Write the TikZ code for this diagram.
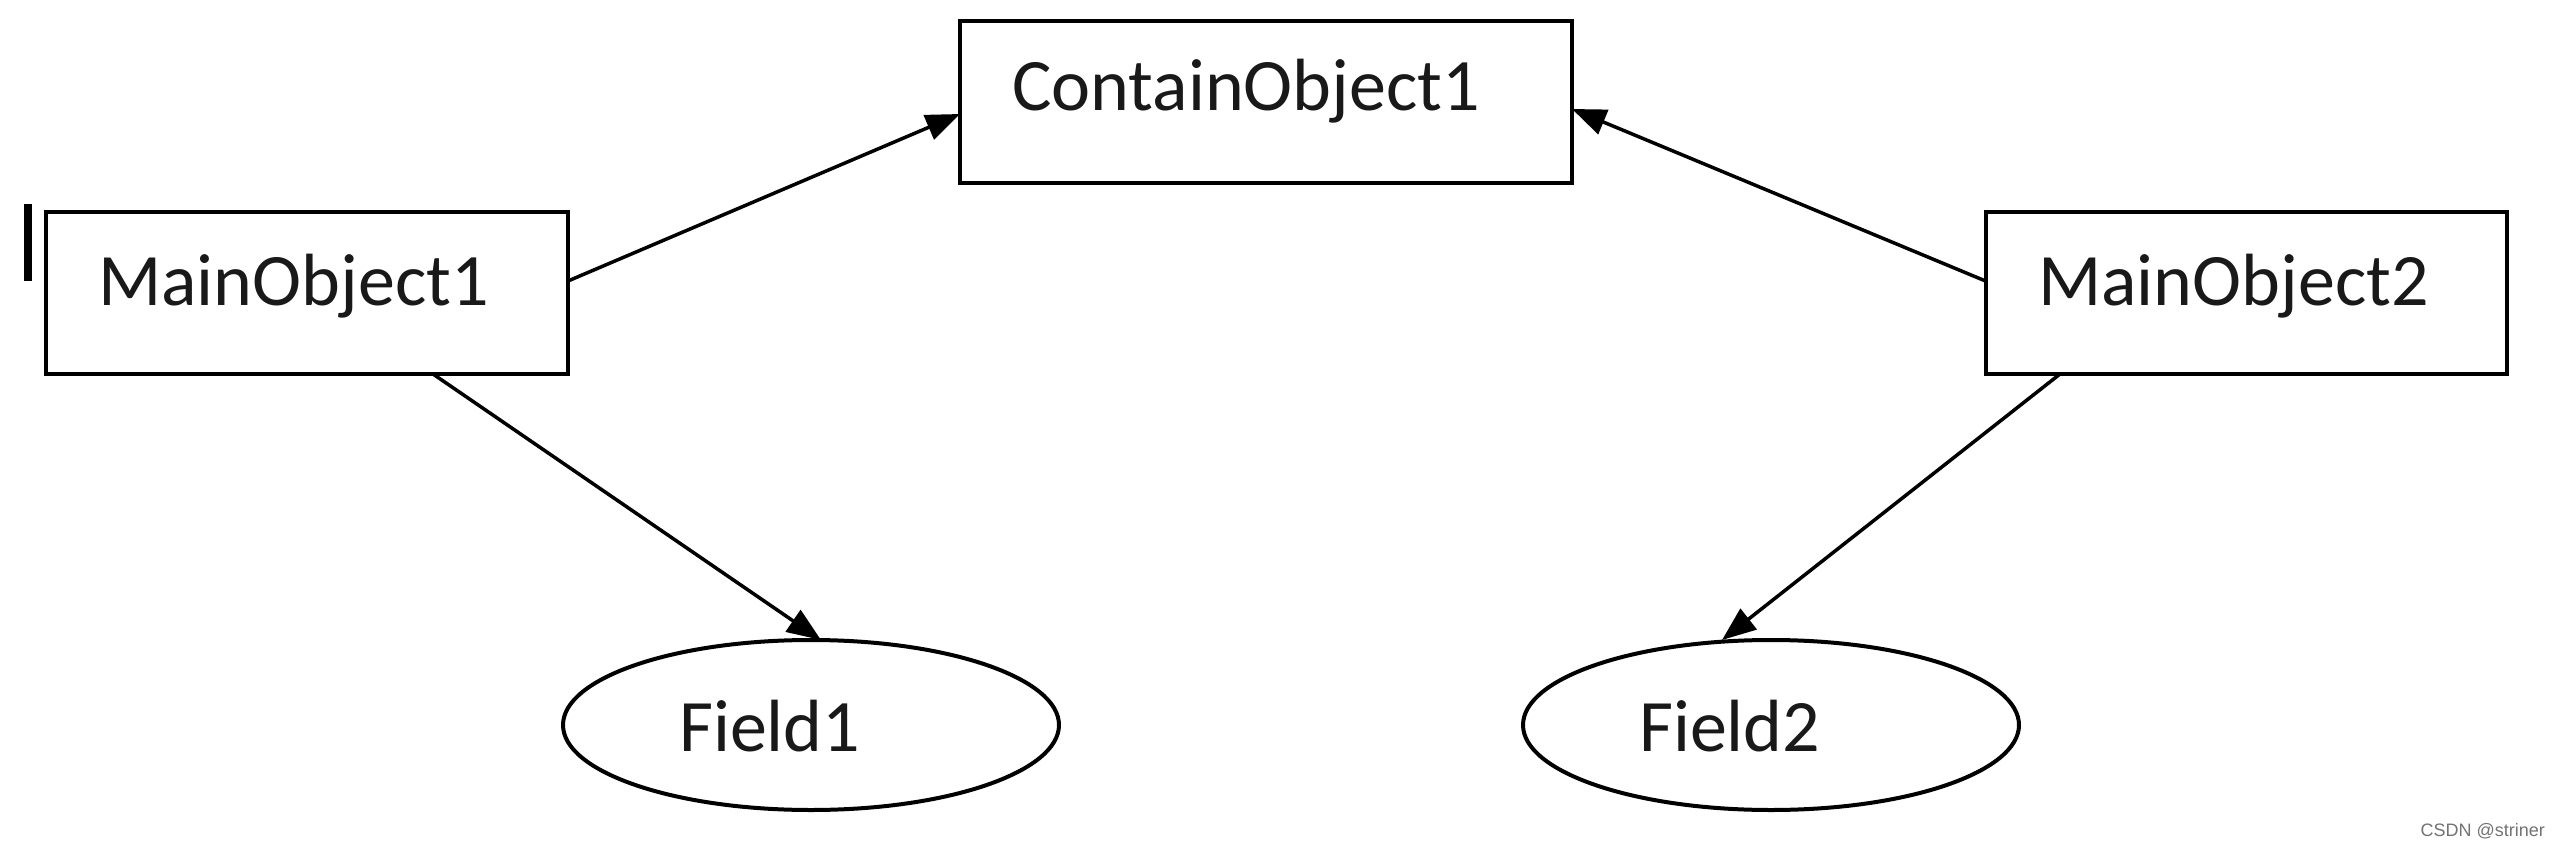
\documentclass[tikz,border=0pt]{standalone}
\usepackage{fontspec}
\setmainfont{Carlito}
\newfontfamily\wmfont{Liberation Sans}
\usetikzlibrary{shapes.geometric,arrows.meta}
\tikzset{
  objbox/.style={draw=black, line width=4pt, rectangle, inner sep=0pt, outer sep=0pt, fill=white},
  fieldell/.style={draw=black, line width=4pt, ellipse, inner sep=0pt, outer sep=0pt, fill=white},
  lbl/.style={anchor=base west, inner sep=0pt, font=\fontsize{74}{80}\selectfont, text=black!90},
  conn/.style={line width=3.5pt, -{Triangle[length=34pt,width=26pt]}},
}
\begin{document}
\begin{tikzpicture}[x=1pt,y=-1pt]
\path[use as bounding box, fill=white] (0,0) rectangle (2560,848);
% shapes
\node[objbox, minimum width=612pt, minimum height=162pt] (c1) at (1266,102) {};
\node[objbox, minimum width=522pt, minimum height=162pt] (m1) at (307,293) {};
\node[objbox, minimum width=521pt, minimum height=162pt] (m2) at (2246,293) {};
\node[fieldell, minimum width=496pt, minimum height=170pt] (f1) at (811,725) {};
\node[fieldell, minimum width=496pt, minimum height=170pt] (f2) at (1771,725) {};
% labels
\node[lbl] (tc1) at (1012,111) {ContainObject1};
\node[lbl] (tm1) at (98,305) {MainObject1};
\node[lbl] (tm2) at (2038,305) {MainObject2};
\node[lbl] (tf1) at (679,751) {Field1};
\node[lbl] (tf2) at (1639,751) {Field2};
% cursor bar
\fill[black] (24,204) rectangle (32,281);
% connectors
\draw[conn] ([yshift=12pt]m1.east) -- ([yshift=-12pt]c1.west);
\draw[conn] ([yshift=12pt]m2.west) -- ([yshift=-7pt]c1.east);
\draw[conn] ([xshift=126pt]m1.south) -- ([xshift=10pt]f1.north);
\draw[conn] ([xshift=-186pt]m2.south) -- ([xshift=-49pt]f2.north);
% watermark
\node[anchor=base east, inner sep=0pt, font=\wmfont\fontsize{18}{20}\selectfont, text=black!55] (wm) at (2545,836) {CSDN @striner};
\end{tikzpicture}
\end{document}
